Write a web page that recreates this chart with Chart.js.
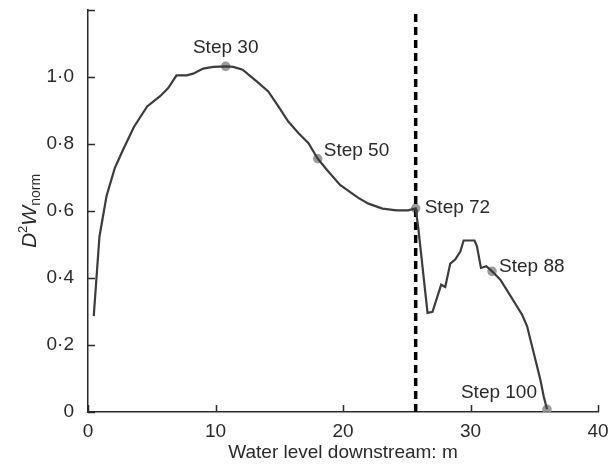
<!DOCTYPE html>
<html>
<head>
<meta charset="utf-8">
<script src="https://cdn.jsdelivr.net/npm/chart.js@4.4.0/dist/chart.umd.min.js"></script>
<style>
  html, body { margin: 0; padding: 0; background: #fff; }
  #wrap { width: 615px; height: 466px; }
</style>
</head>
<body>
<div id="wrap"><canvas id="chart" width="615" height="466"></canvas></div>
<script>
// water level downstream (m) and normalised D2W along the run
const levelX = [0.45, 0.9, 1.45, 2.1, 2.75, 3.6, 4.64, 5.63, 6.29, 6.94, 7.73, 8.25, 9.03, 9.82,
  10.8, 11.4, 12.13, 13.23, 14.14, 14.93, 15.71, 16.5, 17.28, 18.02, 18.73, 19.77, 21.2, 22.0,
  23.1, 24.2, 25.1, 25.7, 25.92, 26.63, 27.02, 27.7, 28.02, 28.41, 28.8, 29.2, 29.46, 30.32,
  30.51, 30.82, 31.24, 31.69, 32.34, 33.0, 33.65, 34.05, 34.44, 34.96, 35.48, 35.74, 36.0];
const d2w = [0.286, 0.524, 0.644, 0.728, 0.783, 0.851, 0.912, 0.942, 0.967, 1.005, 1.005, 1.01,
  1.025, 1.03, 1.032, 1.03, 1.022, 0.987, 0.957, 0.912, 0.867, 0.833, 0.803, 0.756, 0.723, 0.678,
  0.639, 0.622, 0.607, 0.602, 0.602, 0.608, 0.544, 0.296, 0.299, 0.38, 0.373, 0.443, 0.455, 0.479,
  0.512, 0.512, 0.494, 0.43, 0.435, 0.42, 0.395, 0.355, 0.315, 0.29, 0.256, 0.176, 0.096, 0.047, 0.008];

// highlighted steps
const stepNames = ['Step 30', 'Step 50', 'Step 72', 'Step 88', 'Step 100'];
const stepX = [10.8, 18.02, 25.7, 31.69, 36.0];
const stepY = [1.032, 0.756, 0.608, 0.42, 0.008];

// vertical reference line
const markerLevel = 25.7;

const xTicks = [0, 10, 20, 30, 40];
const yTicks = [0, 0.2, 0.4, 0.6, 0.8, 1.0];

const FONT = 'Liberation Sans, Arial, sans-serif';
const INK = '#2a2a2a';

// label placement for each step: [dx, dy, align]
const labelPos = [[0, -19, 'center'], [6, -8, 'left'], [9, -1, 'left'], [7, -5, 'left'], [-10, -17, 'right']];

const decor = {
  id: 'decor',
  afterDraw(chart) {
    const ctx = chart.ctx;
    const xs = chart.scales.x, ys = chart.scales.y;
    const ca = chart.chartArea;
    ctx.save();
    // inward tick marks
    ctx.strokeStyle = INK;
    ctx.lineWidth = 1.5;
    ctx.beginPath();
    xTicks.forEach(v => {
      const px = Math.round(xs.getPixelForValue(v)) + 0.5;
      ctx.moveTo(px, ca.bottom);
      ctx.lineTo(px, ca.bottom - 7);
    });
    yTicks.concat([1.2]).forEach(v => {
      const py = Math.round(ys.getPixelForValue(v)) + 0.5;
      ctx.moveTo(ca.left, py);
      ctx.lineTo(ca.left + 7, py);
    });
    ctx.stroke();

    // step labels
    const pts = chart.getDatasetMeta(2).data;
    ctx.fillStyle = INK;
    ctx.font = '19px ' + FONT;
    ctx.textBaseline = 'middle';
    pts.forEach((p, i) => {
      const [dx, dy, al] = labelPos[i];
      ctx.textAlign = al;
      ctx.fillText(stepNames[i], p.x + dx, p.y + dy);
    });

    // y axis title: D^2 W_norm
    ctx.translate(29, (ca.top + ca.bottom) / 2);
    ctx.rotate(-Math.PI / 2);
    ctx.textAlign = 'left';
    ctx.textBaseline = 'alphabetic';
    const parts = [
      ['italic 21px ' + FONT, 'D', 7],
      ['13px ' + FONT, '2', -2],
      ['italic 21px ' + FONT, 'W', 7],
      ['14px ' + FONT, 'norm', 11]
    ];
    let w = 0;
    parts.forEach(pt => { ctx.font = pt[0]; w += ctx.measureText(pt[1]).width; });
    let cx = -w / 2;
    parts.forEach(pt => {
      ctx.font = pt[0];
      ctx.fillText(pt[1], cx, pt[2]);
      cx += ctx.measureText(pt[1]).width;
    });
    ctx.restore();
  }
};

new Chart(document.getElementById('chart').getContext('2d'), {
  type: 'scatter',
  data: {
    datasets: [{
      data: levelX.map((x, i) => ({ x: x, y: d2w[i] })),
      showLine: true,
      borderColor: '#3c3c3c',
      borderWidth: 2.2,
      pointRadius: 0,
      tension: 0
    }, {
      data: [{ x: markerLevel, y: 0 }, { x: markerLevel, y: 1.2 }],
      showLine: true,
      borderColor: '#000',
      borderWidth: 3.5,
      borderDash: [8, 5],
      pointRadius: 0
    }, {
      data: stepX.map((x, i) => ({ x: x, y: stepY[i] })),
      showLine: false,
      pointRadius: 4,
      pointBackgroundColor: 'rgba(140,140,140,0.85)',
      pointBorderColor: '#9a9a9a',
      pointBorderWidth: 1.5
    }]
  },
  options: {
    responsive: false,
    animation: false,
    devicePixelRatio: 1,
    layout: { padding: { top: 10, right: 17 } },
    plugins: { legend: { display: false }, tooltip: { enabled: false } },
    scales: {
      x: {
        type: 'linear',
        min: 0,
        max: 40,
        afterFit: s => { s.height = 54; s.paddingLeft = 0; s.paddingRight = 0; },
        afterBuildTicks: s => { s.ticks = xTicks.map(v => ({ value: v })); },
        grid: { display: false },
        border: { display: true, color: INK, width: 1.5 },
        ticks: { color: INK, font: { family: FONT, size: 19 }, padding: 0, maxRotation: 0 },
        title: {
          display: true,
          text: 'Water level downstream: m',
          color: INK,
          font: { family: FONT, size: 19 },
          padding: { top: 0, bottom: 2 }
        }
      },
      y: {
        min: 0,
        max: 1.2,
        afterFit: s => { s.width = 88; s.paddingTop = 0; s.paddingBottom = 0; },
        afterBuildTicks: s => { s.ticks = yTicks.map(v => ({ value: v })); },
        grid: { display: false },
        border: { display: true, color: INK, width: 1.5 },
        ticks: {
          color: INK,
          font: { family: FONT, size: 19 },
          padding: 6,
          callback: v => v === 0 ? '0' : v.toFixed(1).replace('.', '\u00b7')
        }
      }
    }
  },
  plugins: [decor]
});
</script>
</body>
</html>
